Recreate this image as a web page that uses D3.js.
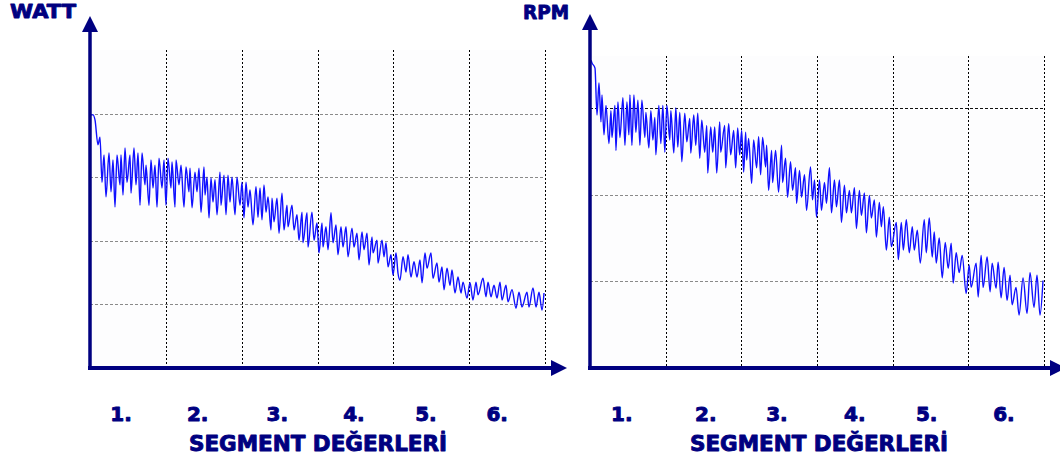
<!DOCTYPE html>
<html>
<head>
<meta charset="utf-8">
<script src="https://cdn.jsdelivr.net/npm/d3@7/dist/d3.min.js"></script>
<style>
  body { margin: 0; background: #fff; }
  svg { display: block; }
</style>
</head>
<body>
<script>
// ---- data: t = sample position, v = reading ----
var wattT = [1,3,5,8,10,12,14,16,19,21,23,25,27,30,31,33,35,37,40,41,44,46,48,50,52,55,56,59,61,63,65,67,69,72,74,76,78,81,82,85,86,89,91,94,96,99,100,102,105,107,109,111,114,115,117,119,121,123,125,127,130,131,134,136,138,140,142,145,147,150,152,154,156,
  158,160,163,166,168,170,172,174,176,178,181,182,184,187,189,192,194,197,198,202,204,207,209,212,213,217,218,222,224,227,229,232,233,236,238,241,243,246,248,251,253,256,258,262,264,267,269,272,274,277,279,282,283,287,288,292,294,296,298,301,303,306,308,
  310,313,316,318,321,324,327,330,332,335,337,341,343,347,349,352,354,357,360,362,365,368,371,373,377,380,383,386,388,393,396,398,401,404,407,410,412,416,418,422,426,429,432,437,439,443,446,449,452,454];
var wattV = [398,398,390,351,363,292,335,269,338,277,327,253,335,288,335,272,346,292,335,275,346,288,338,256,338,288,319,256,327,283,319,253,330,283,327,256,330,283,324,253,327,288,319,253,316,277,314,252,308,277,314,245,316,272,300,236,299,261,296,241,308,256,303,241,303,261,300,241,300,256,292,236,292,
  253,280,225,285,237,283,233,288,245,269,217,267,230,267,212,275,217,256,222,256,217,241,201,245,197,244,190,245,201,228,181,228,190,222,186,244,197,225,178,222,190,222,175,220,190,212,170,214,186,212,162,206,181,201,165,201,175,197,159,178,146,181,149,
  138,175,151,178,143,167,143,170,134,181,157,181,141,165,135,159,123,157,130,154,118,143,118,135,110,134,107,135,115,141,112,135,112,130,110,135,107,130,104,123,94,119,96,119,96,126,96,119,91,118];

var rpmT = [1,2,5,7,9,11,12,14,16,19,21,22,25,26,28,30,33,35,37,39,40,42,44,46,48,50,52,55,56,59,61,63,65,66,69,71,73,75,77,80,81,84,86,88,90,92,95,97,100,101,104,106,108,110,112,115,117,118,121,123,125,127,130,131,135,136,139,141,144,146,148,150,152,154,156,
  157,159,162,164,167,169,171,173,176,177,179,182,183,186,189,192,193,196,198,201,203,206,207,210,212,215,217,221,223,225,227,230,232,235,237,240,242,245,247,250,252,255,257,260,262,265,267,270,272,275,277,280,282,285,287,290,292,294,297,300,302,
  307,309,312,314,317,320,323,325,328,331,335,337,340,343,345,347,350,353,356,359,362,364,367,370,373,377,380,382,387,389,392,394,398,401,403,407,409,412,415,418,421,423,427,430,434,438,441,445,448,451,454];
var rpmV = [355,352,346,292,329,284,315,269,303,259,297,266,303,251,307,266,312,257,307,269,315,257,315,272,309,257,309,266,295,254,297,263,289,246,303,259,303,249,303,263,297,248,300,255,295,238,294,261,288,248,292,257,294,242,286,249,280,225,278,249,278,225,284,249,280,231,282,246,274,231,277,246,274,226,272,
  240,265,213,263,231,267,223,266,232,257,205,251,214,251,203,257,214,242,197,238,205,231,190,228,197,223,182,232,194,217,174,217,182,214,190,231,179,217,186,217,168,211,179,205,179,208,161,205,176,202,156,199,173,194,151,191,163,186,136,174,140,
  168,125,168,136,171,133,163,136,159,121,171,133,173,128,157,121,150,104,145,115,144,98,133,110,130,86,119,93,121,82,130,93,128,88,121,92,122,81,116,78,107,73,93,61,104,63,110,70,107,61,101];

var segLabels = ["1.", "2.", "3.", "4.", "5.", "6."];
var wattLabelPos = [0.41, 1.42, 2.47, 3.48, 4.43, 5.37];
var rpmLabelPos = [0.42, 1.53, 2.47, 3.50, 4.45, 5.47];
var wattGrid = [100, 200, 300, 400];
var rpmGrid = [100, 200, 300];
var segCount = 6;
var tSpan = 455;
var xTitle = "SEGMENT DEĞERLERİ";

// ---- layout ----
var width = 1060, height = 461;
var navy = "#000080";
var font = "'DejaVu Sans', Verdana, sans-serif";

var svg = d3.select("body").append("svg")
    .attr("width", width)
    .attr("height", height);

// heavy navy label text, a thin stroke makes it look like the black face in the original
function heavyText(sel, size) {
  return sel.attr("fill", navy)
      .attr("stroke", navy)
      .attr("stroke-width", 0.9)
      .attr("stroke-linejoin", "round")
      .style("font-family", font)
      .style("font-weight", "bold")
      .style("font-size", size + "px");
}

function panel(o) {
  var g = svg.append("g");

  var x = d3.scaleLinear().domain([0, tSpan]).range([o.x0, o.x1]);
  var seg = d3.scaleLinear().domain([0, segCount]).range([o.x0, o.x1]);
  var y = d3.scaleLinear().domain(o.yDomain).range([o.yAxis, o.yTop]);

  // plot background
  g.append("rect")
      .attr("x", o.x0).attr("y", o.yTop)
      .attr("width", o.x1 - o.x0).attr("height", o.yAxis - o.yTop)
      .attr("fill", "#fdfdfe");

  // horizontal dashed grid
  g.selectAll(".hgrid")
      .data(o.grid)
    .enter().append("line")
      .attr("x1", o.x0).attr("x2", o.x1)
      .attr("y1", function(d) { return Math.round(y(d)) + 0.5; })
      .attr("y2", function(d) { return Math.round(y(d)) + 0.5; })
      .attr("stroke", function(d, i) { return o.gridColor(d, i); })
      .attr("stroke-width", 1)
      .attr("stroke-dasharray", "3,2");

  // vertical dotted segment lines
  g.selectAll(".vgrid")
      .data(d3.range(1, segCount + 1))
    .enter().append("line")
      .attr("x1", function(d) { return Math.round(seg(d)) + 0.5; })
      .attr("x2", function(d) { return Math.round(seg(d)) + 0.5; })
      .attr("y1", o.yTop).attr("y2", o.yAxis)
      .attr("stroke", "#000")
      .attr("stroke-width", 1)
      .attr("stroke-dasharray", "2,2");

  // signal
  var line = d3.line()
      .curve(d3.curveMonotoneX)
      .x(function(d) { return x(d[0]); })
      .y(function(d) { return y(d[1]); });

  g.append("path")
      .datum(d3.zip(o.t, o.v))
      .attr("d", line)
      .attr("fill", "none")
      .attr("stroke", "#1010ff")
      .attr("stroke-width", 1.4)
      .attr("stroke-linejoin", "round");

  // axes with arrow heads
  g.append("line")
      .attr("x1", o.x0).attr("x2", o.x0)
      .attr("y1", o.yAxis + 2).attr("y2", o.arrowTop + 14)
      .attr("stroke", navy).attr("stroke-width", 3.5);
  g.append("path")
      .attr("d", "M" + (o.x0 - 8) + "," + (o.arrowTop + 16) + "L" + o.x0 + "," + o.arrowTop + "L" + (o.x0 + 8) + "," + (o.arrowTop + 16) + "Z")
      .attr("fill", navy);

  g.append("line")
      .attr("x1", o.x0 - 2).attr("x2", o.arrowRight - 14)
      .attr("y1", o.yAxis).attr("y2", o.yAxis)
      .attr("stroke", navy).attr("stroke-width", 4);
  g.append("path")
      .attr("d", "M" + (o.arrowRight - 16) + "," + (o.yAxis - 8) + "L" + o.arrowRight + "," + o.yAxis + "L" + (o.arrowRight - 16) + "," + (o.yAxis + 8) + "Z")
      .attr("fill", navy);

  // segment labels
  g.selectAll(".seglabel")
      .data(segLabels)
    .enter().append("text")
      .attr("x", function(d, i) { return seg(o.labelPos[i]); })
      .attr("y", 421)
      .attr("text-anchor", "middle")
      .call(heavyText, 20)
      .text(function(d) { return d; });

  // axis titles
  g.append("text")
      .attr("x", o.titleX).attr("y", 451)
      .attr("text-anchor", "middle")
      .attr("textLength", 258)
      .attr("lengthAdjust", "spacingAndGlyphs")
      .call(heavyText, 21)
      .text(xTitle);

  g.append("text")
      .attr("x", o.unitX).attr("y", o.unitY)
      .attr("textLength", o.unitW)
      .attr("lengthAdjust", "spacingAndGlyphs")
      .call(heavyText, 19)
      .text(o.unit);
}

panel({
  t: wattT, v: wattV, unit: "WATT",
  x0: 90, x1: 545, yTop: 50, yAxis: 368, yDomain: [0, 500],
  grid: wattGrid, gridColor: function() { return "#8a8a8a"; },
  labelPos: wattLabelPos, arrowTop: 16, arrowRight: 567,
  titleX: 318, unitX: 10, unitY: 18, unitW: 66
});

panel({
  t: rpmT, v: rpmV, unit: "RPM",
  x0: 590, x1: 1044, yTop: 56, yAxis: 368, yDomain: [0, 360],
  grid: rpmGrid, gridColor: function(d) { return d === 300 ? "#111" : "#8a8a8a"; },
  labelPos: rpmLabelPos, arrowTop: 14, arrowRight: 1066,
  titleX: 819, unitX: 523, unitY: 19, unitW: 46
});
</script>
</body>
</html>
